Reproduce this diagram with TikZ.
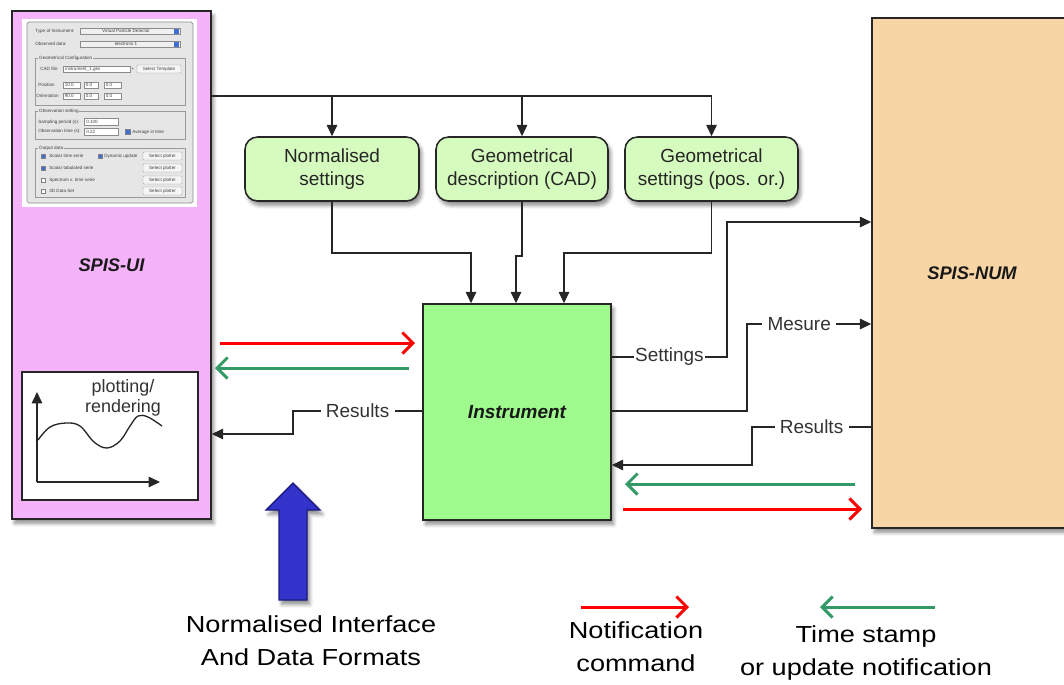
\documentclass[tikz,border=0pt]{standalone}
\usepackage{fontspec}
\setmainfont{Liberation Sans}
\newfontfamily\widefont[FakeStretch=1.17]{Liberation Sans}
\usetikzlibrary{arrows.meta,shadows.blur}
\definecolor{uipink}{HTML}{F5B3FA}
\definecolor{boxgreen}{HTML}{D6FBBE}
\definecolor{instgreen}{HTML}{A0FB8E}
\definecolor{numorange}{HTML}{F8D5A5}
\definecolor{tgreen}{HTML}{339966}
\definecolor{bluearr}{HTML}{3333CC}
\definecolor{bluedark}{HTML}{1A1A80}
\definecolor{panel}{HTML}{E6E6E6}
\definecolor{spin}{HTML}{3D6FD6}
\begin{document}
\begin{tikzpicture}[x=0.02cm,y=-0.02cm,
  shad/.style={blur shadow={shadow xshift=1.5pt,shadow yshift=-2.5pt,shadow blur steps=6,shadow opacity=45}},
  blk/.style={draw=black!85,line width=0.9pt},
  big/.style={blk,shad,font=\fontsize{10.8}{13}\selectfont\bfseries\itshape,text=black!90},
  rbox/.style={blk,shad,rounded corners=0.25cm,fill=boxgreen,align=center,font=\fontsize{10.8}{13}\selectfont,text=black!85,minimum height=1.28cm},
  wire/.style={draw=black!85,line width=0.75pt},
  conn/.style={wire,-{Triangle[length=6.5pt,width=6pt]}},
  lbl/.style={fill=white,font=\fontsize{10.8}{13}\selectfont,text=black!80,inner sep=3pt},
  redarr/.style={draw=red,line width=1.7pt,-{Straight Barb[length=6pt,width=12pt]}},
  grnarr/.style={draw=tgreen,line width=1.7pt,-{Straight Barb[length=6pt,width=12pt]}},
  lgd/.style={font=\widefont\fontsize{13.2}{18.7}\selectfont,align=center,text=black},
  uitxt/.style={font=\fontsize{2.6}{3}\selectfont,inner sep=0pt,text=black!75},
  fld/.style={draw=black!45,fill=white,line width=0.2pt},
  btn/.style={draw=black!40,fill=white!96!black,line width=0.2pt,rounded corners=0.5pt},
  grp/.style={draw=black!40,line width=0.25pt},
  chk/.style={fill=spin,draw=black!50,line width=0.15pt},
  unchk/.style={fill=white,draw=black!50,line width=0.15pt},
]
\useasboundingbox (0,0) rectangle (1064,684);
\clip (0,0) rectangle (1064,684);

% main blocks
\node[big,fill=uipink,minimum width=3.98cm,minimum height=10.16cm,font=\fontsize{10.4}{12}\selectfont\bfseries\itshape] (ui) at (111.5,265) {SPIS-UI};
\node[big,fill=instgreen,minimum width=3.76cm,minimum height=4.32cm] (inst) at (517,412) {Instrument};
\node[big,fill=numorange,minimum width=4cm,minimum height=10.2cm,font=\fontsize{10.4}{12}\selectfont\bfseries\itshape] (num) at (972,273) {SPIS-NUM};

\node[rbox,minimum width=3.48cm] (ns) at (332,169) {Normalised\\settings};
\node[rbox,minimum width=3.44cm] (gd) at (522,169) {Geometrical\\description (CAD)};
\node[rbox,minimum width=3.46cm] (gs) at (711.5,169) {Geometrical\\settings (pos. or.)};

% screenshot of the UI
\fill[white] (22,19) rectangle (197,207);
\draw[draw=black!45,fill=panel,line width=0.4pt,rounded corners=1pt] (27,22) rectangle (193,203);
\node[uitxt,anchor=west] (u1) at (35,31) {Type of Instrument:};
\draw[fld,fill=white!94!black] (80,28) rectangle (180,34);
\node[uitxt] (u2) at (126,31) {Virtual Particle Detector};
\fill[spin] (174,28.5) rectangle (179,33.5);
\node[uitxt,anchor=west] (u3) at (35,44) {Observed data:};
\draw[fld,fill=white!94!black] (80,41) rectangle (180,47);
\node[uitxt] (u4) at (126,44) {electrons 1};
\fill[spin] (174,41.5) rectangle (179,46.5);

\draw[grp] (35,58) rectangle (185,105);
\node[uitxt,anchor=west,fill=panel,inner xsep=0.5pt] (u5) at (38,58) {Geometrical Configuration};
\node[uitxt,anchor=west] (u6) at (40,69) {CAD file:};
\draw[fld] (63,66) rectangle (130,72);
\node[uitxt,anchor=west] (u7) at (65,69) {instrument\_1.gex};
\node[uitxt] (u8) at (133,69) {+};
\draw[btn] (137,65) rectangle (181,73);
\node[uitxt] (u9) at (159,69) {Select Template};
\node[uitxt,anchor=west] (u10) at (38,85) {Position};
\node[uitxt,anchor=west] (u11) at (36,96) {Orientation};
\foreach \a/\b/\t/\n in {63/80/10.0/a,84/98/0.0/b,104/121/0.0/c}{
  \draw[fld] (\a,82) rectangle (\b,88);
  \node[uitxt,anchor=west] (p\n) at (\a+1.5,85) {\t};}
\foreach \a/\b/\t/\n in {63/80/90.0/a,84/98/0.0/b,104/121/0.0/c}{
  \draw[fld] (\a,93) rectangle (\b,99);
  \node[uitxt,anchor=west] (o\n) at (\a+1.5,96) {\t};}

\draw[grp] (35,111) rectangle (185,139);
\node[uitxt,anchor=west,fill=panel,inner xsep=0.5pt] (u12) at (38,111) {Observation setting};
\node[uitxt,anchor=west] (u13) at (38,122) {Sampling period (s):};
\draw[fld] (84,118) rectangle (118,125);
\node[uitxt,anchor=west] (u14) at (86,121.5) {0.100};
\node[uitxt,anchor=west] (u15) at (38,131) {Observation time (s):};
\draw[fld] (84,128) rectangle (118,135);
\node[uitxt,anchor=west] (u16) at (86,131.5) {0.22};
\draw[chk] (125,129) rectangle (130,134);
\node[uitxt,anchor=west] (u17) at (132,132) {Average in time};

\draw[grp] (35,148) rectangle (185,197);
\node[uitxt,anchor=west,fill=panel,inner xsep=0.5pt] (u18) at (38,148) {Output data};
\foreach \y/\t/\n in {156/Scalar time serie/a,168/Scalar tabulated serie/b,180/Spectrum v. time serie/c,191/3D Data Set/d}{
  \node[uitxt,anchor=west] (r\n) at (49,\y) {\t};
  \draw[btn] (143,\y-4) rectangle (182,\y+4);
  \node[uitxt] (b\n) at (162.5,\y) {Select plotter};}
\draw[chk] (41,154) rectangle (45,158);
\draw[chk] (41,166) rectangle (45,170);
\draw[unchk] (41,178) rectangle (45,182);
\draw[unchk] (41,189) rectangle (45,193);
\draw[chk] (98,154) rectangle (102,158);
\node[uitxt,anchor=west] (u19) at (104,156) {Dynamic update};

% plotting box
\node[blk,fill=white,minimum width=3.52cm,minimum height=2.56cm] (plot) at (110,436) {};
\coordinate (po) at (37,482);
\coordinate (py) at (37,392);
\coordinate (px) at (160,482);
\draw[conn] (po) -- (py);
\draw[conn] (po) -- (px);
\draw[wire] plot[smooth,tension=0.6] coordinates {(38,440) (50,427) (66,423) (80,426) (94,442) (107,448) (120,441) (130,426) (138,416) (148,417) (162,426)};
\node[font=\fontsize{10.2}{11.3}\selectfont,align=center,text=black!80] (pr) at (123,398) {plotting/\\rendering};

% connectors from UI to boxes
\coordinate (t) at (711.5,96);
\draw[wire] (ui.east |- t) -- (t);
\draw[conn] (t) -- (gs.north);
\draw[conn] (ns.north |- t) -- (ns.north);
\draw[conn] (gd.north |- t) -- (gd.north);

\coordinate (j1) at (471,253);
\coordinate (j2) at (516,256);
\coordinate (j3) at (564,253);
\draw[conn] (ns.south) |- (j1) -- (j1 |- inst.north);
\draw[conn] (gd.south) |- (j2) -- (j2 |- inst.north);
\draw[conn] (gs.south) |- (j3) -- (j3 |- inst.north);

% instrument <-> SPIS-NUM
\coordinate (s1) at (727,357);
\coordinate (s2) at (727,222);
\draw[conn] (inst.east |- s1) -- node[lbl,inner sep=0.5pt]{Settings} (s1) -- (s2) -- (num.west |- s2);
\coordinate (m1) at (747,411);
\coordinate (m2) at (747,324);
\draw[conn] (inst.east |- m1) -- (m1) -- (m2) -- node[lbl,pos=0.42]{Mesure} (num.west |- m2);
\coordinate (q1) at (752,427);
\coordinate (q2) at (752,465);
\draw[conn] (num.west |- q1) -- node[lbl]{Results} (q1) -- (q2) -- (inst.east |- q2);

% instrument -> UI results
\coordinate (l1) at (293,411);
\coordinate (l2) at (293,434);
\draw[conn] (inst.west |- l1) -- node[lbl]{Results} (l1) -- (l2) -- (ui.east |- l2);

% notification arrows
\coordinate (a1) at (220,343);
\coordinate (a2) at (415,343);
\draw[redarr] (a1) -- (a2);
\coordinate (a3) at (409,368);
\coordinate (a4) at (215,368);
\draw[grnarr] (a3) -- (a4);
\coordinate (a5) at (855,484);
\coordinate (a6) at (625,484);
\draw[grnarr] (a5) -- (a6);
\coordinate (a7) at (623,509);
\coordinate (a8) at (862,509);
\draw[redarr] (a7) -- (a8);

% big blue arrow
\draw[draw=bluedark,fill=bluearr,line width=0.8pt,line join=miter,shad] (279,600) -- (279,510) -- (266,510) -- (293,483) -- (320,510) -- (307,510) -- (307,600) -- cycle;

% legend
\node[lgd] (nif) at (311,641) {Normalised Interface\\And Data Formats};
\coordinate (lr1) at (581,607);
\coordinate (lr2) at (689,607);
\draw[redarr] (lr1) -- (lr2);
\node[lgd] (ncmd) at (636,647) {Notification\\command};
\coordinate (lg1) at (935,607);
\coordinate (lg2) at (820,607);
\draw[grnarr] (lg1) -- (lg2);
\node[lgd] (tsn) at (866,653) {Time stamp\\or update notification};
\end{tikzpicture}
\end{document}
